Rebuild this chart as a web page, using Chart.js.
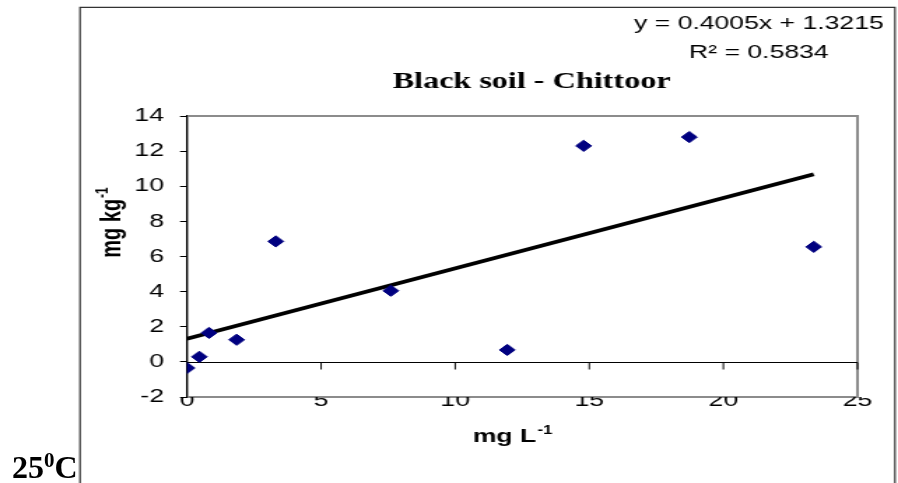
<!DOCTYPE html>
<html>
<head>
<meta charset="utf-8">
<title>Black soil - Chittoor</title>
<script src="https://cdn.jsdelivr.net/npm/chart.js@4.4.1/dist/chart.umd.min.js"></script>
<style>
  html, body { margin: 0; padding: 0; background: #fff; overflow: hidden; }
  body { width: 898px; height: 483px; position: relative; }
  /* the chart is laid out narrow and widened, like a pasted chart that was stretched */
  #wrap { position: absolute; left: 0; top: 0; width: 642px; height: 483px; transform: scaleX(1.3988); transform-origin: 0 0; }
  #temp { position: absolute; left: 12px; top: 451px; font: bold 32px "Liberation Serif", "Times New Roman", serif; line-height: 32px; color: #000; }
  #temp sup { font-size: 21px; vertical-align: 11px; line-height: 0; }
</style>
</head>
<body>
<div id="wrap"><canvas id="soilChart" width="642" height="483"></canvas></div>
<div id="temp">25<sup>0</sup>C</div>
<script>
// concentration in solution (mg L-1) vs. amount sorbed (mg kg-1)
const concX = [0, 0.46, 0.82, 1.85, 3.31, 7.6, 11.94, 14.79, 18.73, 23.37];
const sorbedY = [-0.35, 0.29, 1.65, 1.26, 6.86, 4.05, 0.68, 12.3, 12.8, 6.55];

// linear trendline as reported
const slope = 0.4005;
const intercept = 1.3215;
const rSquared = 0.5834;

const xTickValues = [0, 5, 10, 15, 20, 25];
const yTickValues = [-2, 0, 2, 4, 6, 8, 10, 12, 14];

const chartTitle = 'Black soil - Chittoor';

const points = concX.map((x, i) => ({ x: x, y: sorbedY[i] }));
const xMin = Math.min(...concX);
const xMax = Math.max(...concX);
const trend = [xMin, xMax].map(x => ({ x: x, y: slope * x + intercept }));

const SANS = '"Liberation Sans", Arial, sans-serif';
const SERIF = '"Liberation Serif", "Times New Roman", serif';

// text with a raised small suffix, e.g. mg kg-1
function drawSupText(ctx, base, sup, cx, baseline, size) {
    const supSize = Math.round(size * 0.62);
    ctx.font = 'bold ' + size + 'px ' + SANS;
    const wb = ctx.measureText(base).width;
    ctx.font = 'bold ' + supSize + 'px ' + SANS;
    const ws = ctx.measureText(sup).width;
    const start = cx - (wb + ws) / 2;
    ctx.textAlign = 'left';
    ctx.textBaseline = 'alphabetic';
    ctx.font = 'bold ' + size + 'px ' + SANS;
    ctx.fillText(base, start, baseline);
    ctx.font = 'bold ' + supSize + 'px ' + SANS;
    ctx.fillText(sup, start + wb + 1, baseline - size * 0.42);
}

const decorPlugin = {
    id: 'decor',
    beforeDraw(chart) {
        const { ctx, chartArea: a } = chart;
        ctx.save();

        // outer chart frame
        ctx.strokeStyle = '#333';
        ctx.lineWidth = 1.2;
        ctx.beginPath();
        ctx.moveTo(57.2, 483);
        ctx.lineTo(57.2, 7.3);
        ctx.lineTo(639.8, 7.3);
        ctx.lineTo(639.8, 483);
        ctx.stroke();

        // plot area border (left side is the y axis)
        ctx.strokeStyle = '#8c8c8c';
        ctx.lineWidth = 2;
        ctx.beginPath();
        ctx.moveTo(a.left + 1, a.top);
        ctx.lineTo(a.right, a.top);
        ctx.lineTo(a.right, a.bottom);
        ctx.lineTo(a.left + 1, a.bottom);
        ctx.stroke();
        ctx.restore();
    },
    beforeDatasetsDraw(chart) {
        const { ctx, chartArea: a, scales: { x, y } } = chart;
        ctx.save();
        // horizontal axis crosses at y = 0
        const y0 = Math.round(y.getPixelForValue(0)) + 0.5;
        ctx.strokeStyle = '#000';
        ctx.lineWidth = 1;
        ctx.beginPath();
        ctx.moveTo(a.left, y0);
        ctx.lineTo(a.right, y0);
        x.ticks.forEach(t => {
            const px = x.getPixelForValue(t.value);
            ctx.moveTo(px, y0);
            ctx.lineTo(px, y0 + 7);
        });
        ctx.stroke();
        ctx.restore();
    },
    afterDraw(chart) {
        const { ctx } = chart;
        ctx.save();
        ctx.fillStyle = '#000';

        ctx.font = 'bold 23px ' + SERIF;
        ctx.textAlign = 'center';
        ctx.textBaseline = 'alphabetic';
        ctx.fillText(chartTitle, 380, 88);

        ctx.font = '19px ' + SANS;
        ctx.fillText('y = ' + slope.toFixed(4) + 'x + ' + intercept.toFixed(4), 542.5, 29);
        ctx.fillText('R\u00b2 = ' + rSquared.toFixed(4), 542.5, 58);

        drawSupText(ctx, 'mg L', '-1', 366, 442, 19);

        ctx.translate(85.5, 223);
        ctx.rotate(-Math.PI / 2);
        drawSupText(ctx, 'mg kg', '-1', 0, 0, 20);
        ctx.restore();
    }
};

const tickFont = { family: SANS, size: 19 };

new Chart(document.getElementById('soilChart'), {
    type: 'scatter',
    data: {
        datasets: [{
            data: points,
            pointStyle: 'rectRot',
            pointRadius: 5.6,
            backgroundColor: '#000080',
            borderColor: '#000080',
            borderWidth: 1,
            order: 1
        }, {
            type: 'line',
            data: trend,
            borderColor: '#000',
            borderWidth: 3.8,
            pointRadius: 0,
            fill: false,
            order: 2
        }]
    },
    options: {
        responsive: false,
        animation: false,
        devicePixelRatio: 1,
        layout: { padding: { top: 116, right: 29, bottom: 66, left: 0 } },
        plugins: { legend: { display: false }, tooltip: { enabled: false } },
        scales: {
            x: {
                type: 'linear',
                min: 0,
                max: 25,
                afterBuildTicks: s => { s.ticks = xTickValues.map(v => ({ value: v })); },
                afterFit: s => { s.height = 20; },
                grid: { display: false, drawTicks: false },
                border: { display: false },
                ticks: { padding: -7.5, color: '#000', font: tickFont }
            },
            y: {
                type: 'linear',
                min: -2,
                max: 14,
                afterBuildTicks: s => { s.ticks = yTickValues.map(v => ({ value: v })); },
                afterFit: s => { s.width = 133.7; },
                grid: { drawOnChartArea: false, tickLength: 5, color: '#000' },
                border: { display: true, color: '#000', width: 1.4 },
                ticks: { padding: 11.5, color: '#000', font: tickFont }
            }
        }
    },
    plugins: [decorPlugin]
});
</script>
</body>
</html>
